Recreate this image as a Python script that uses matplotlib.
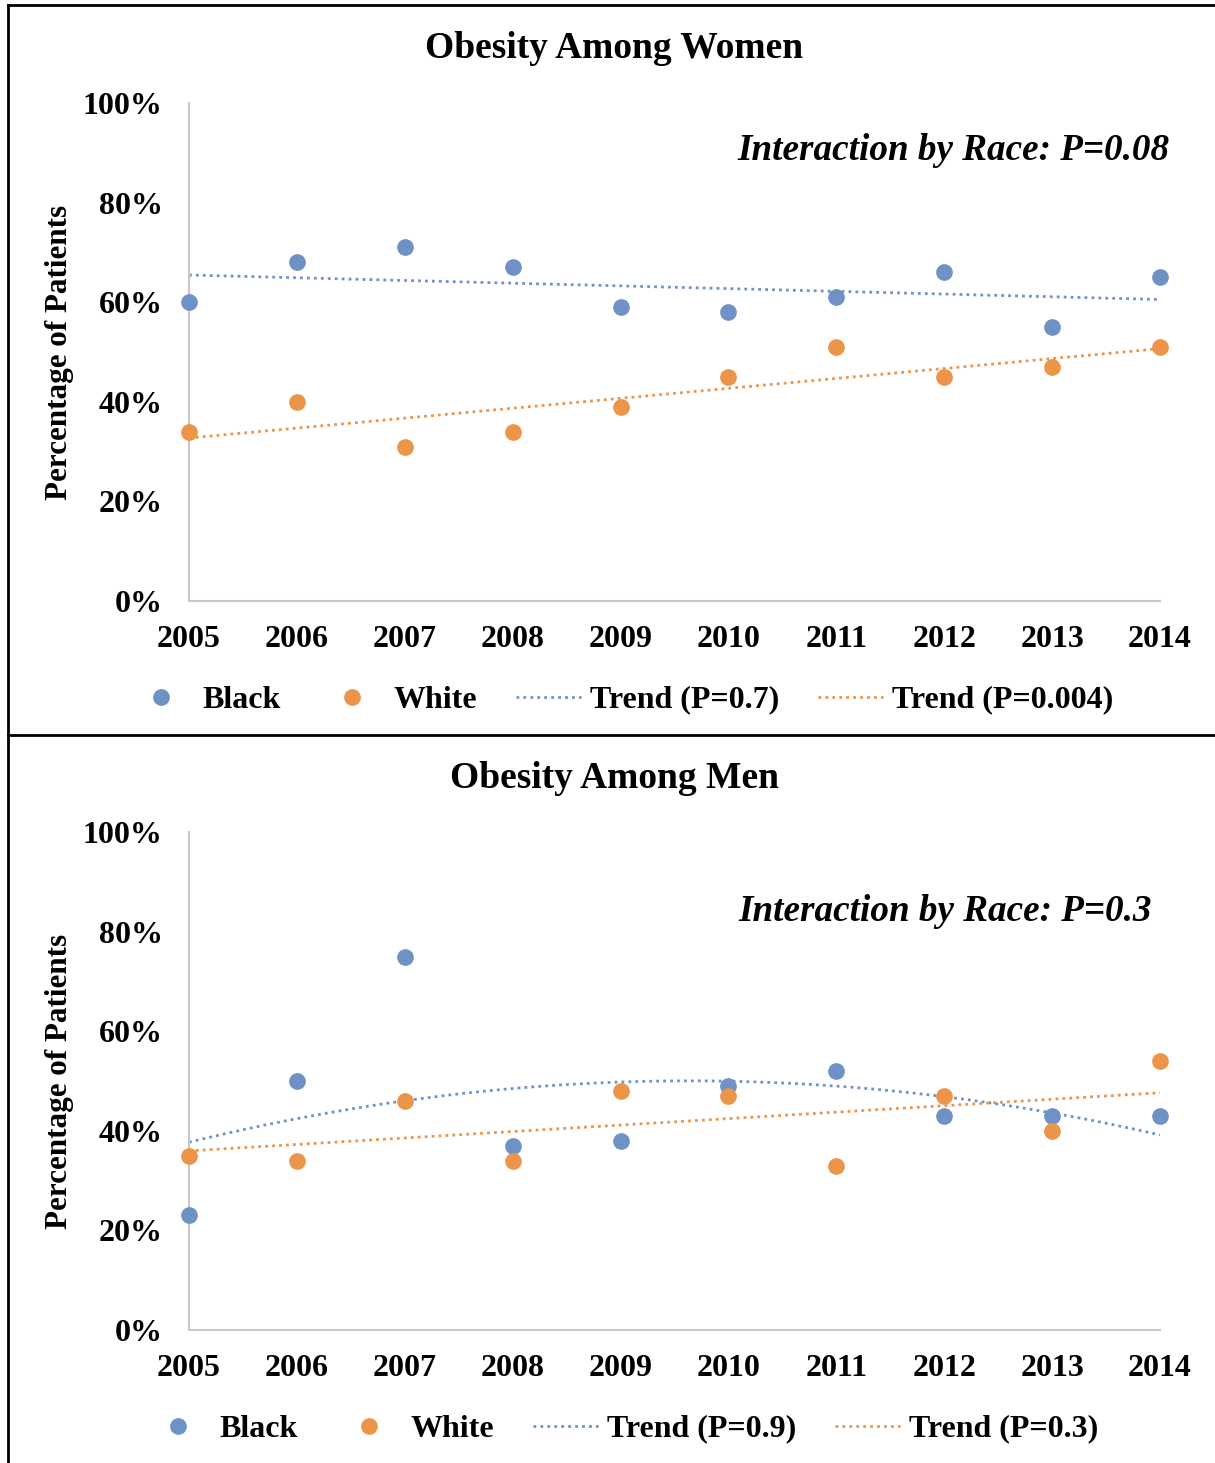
import numpy as np
import matplotlib
matplotlib.use('Agg')
import matplotlib.pyplot as plt
from matplotlib.lines import Line2D

years = [2005, 2006, 2007, 2008, 2009, 2010, 2011, 2012, 2013, 2014]
women_black = [60, 68, 71, 67, 59, 58, 61, 66, 55, 65]
women_white = [34, 40, 31, 34, 39, 45, 51, 45, 47, 51]
men_black = [23, 50, 75, 37, 38, 49, 52, 43, 43, 43]
men_white = [35, 34, 46, 34, 48, 47, 33, 47, 40, 54]
yticks = [0, 20, 40, 60, 80, 100]

BLUE = '#6f92c6'
ORANGE = '#ec9447'
W, H = 1215, 1463

plt.rcParams['font.family'] = ['Liberation Serif', 'DejaVu Serif']
plt.rcParams['font.weight'] = 'bold'

fig = plt.figure(figsize=(W / 100, H / 100), dpi=100)


def panel(top_px, title, annot, annot_xy, black, white, black_deg, p_black, p_white, leg_x):
    ax = fig.add_axes([189 / W, 1 - (top_px + 498) / H, 971 / W, 498 / H])
    x = np.array(years, dtype=float)
    xs = np.linspace(years[0], years[-1], 200)
    cb = np.polyfit(x - 2009.5, black, black_deg)
    cw = np.polyfit(x - 2009.5, white, 1)
    ax.plot(x, black, 'o', color=BLUE, ms=11, clip_on=False, zorder=3, label='Black')
    ax.plot(x, white, 'o', color=ORANGE, ms=11, clip_on=False, zorder=3, label='White')
    ax.plot(xs, np.polyval(cb, xs - 2009.5), color=BLUE, lw=2, ls=(0, (1, 1.5)),
            label=f'Trend (P={p_black})')
    ax.plot(xs, np.polyval(cw, xs - 2009.5), color=ORANGE, lw=2, ls=(0, (1, 1.5)),
            label=f'Trend (P={p_white})')
    ax.set_xlim(2005, 2014)
    ax.set_ylim(0, 100)
    ax.set_xticks(years)
    ax.set_yticks(yticks)
    ax.set_yticklabels([f'{v}%' for v in yticks])
    ax.tick_params(length=0, labelsize=23)
    ax.tick_params(axis='y', pad=19)
    ax.tick_params(axis='x', pad=17)
    for s in ['top', 'right']:
        ax.spines[s].set_visible(False)
    for s in ['left', 'bottom']:
        ax.spines[s].set_color('#c8c8c8')
        ax.spines[s].set_linewidth(1.5)
    ax.text(annot_xy[0], annot_xy[1], annot, transform=ax.transAxes, ha='right', va='center',
            fontsize=26.7, style='italic', fontweight='bold')
    fig.text(614 / W, 1 - (top_px - 54) / H, title, ha='center', va='center',
             fontsize=27, fontweight='bold')
    fig.text(60 / W, 1 - (top_px + 249) / H, 'Percentage of Patients', rotation=90,
             ha='center', va='center', fontsize=22.4, fontweight='bold')
    ax.legend(loc='center', bbox_to_anchor=(leg_x / W, 1 - (top_px + 597) / H),
              bbox_transform=fig.transFigure, ncol=4, frameon=False,
              handlelength=2.03, handletextpad=0.3, columnspacing=1.2,
              prop={'weight': 'bold', 'size': 23})
    return ax


panel(103, 'Obesity Among Women', 'Interaction by Race: P=0.08', (1.01, 0.905),
      women_black, women_white, 1, '0.7', '0.004', 621)
panel(832, 'Obesity Among Men', 'Interaction by Race: P=0.3', (0.992, 0.84),
      men_black, men_white, 2, '0.9', '0.3', 622)

# frame lines
fig.add_artist(Line2D([8 / W, 1], [1 - 5 / H, 1 - 5 / H], color='black', lw=2))
fig.add_artist(Line2D([8 / W, 8 / W], [0, 1 - 5 / H], color='black', lw=2))
fig.add_artist(Line2D([8 / W, 1], [1 - 735 / H, 1 - 735 / H], color='black', lw=2))

fig.savefig('out.png', dpi=100)
